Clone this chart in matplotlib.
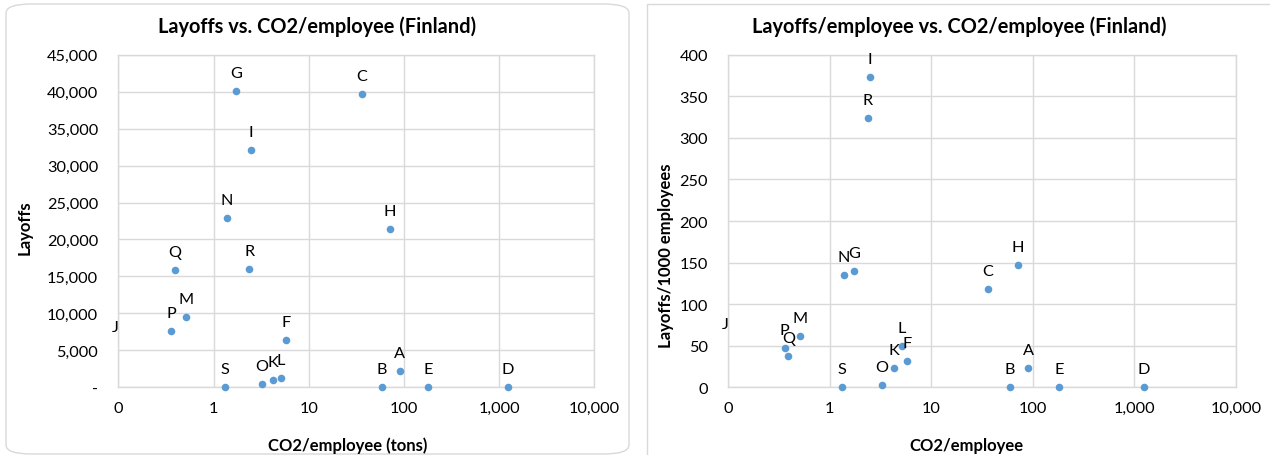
import matplotlib
matplotlib.use("Agg")
import matplotlib.pyplot as plt
from matplotlib.patches import FancyBboxPatch
import matplotlib.transforms as mtransforms
import numpy as np

# ---------------- data ----------------
sectors = ["A", "B", "C", "D", "E", "F", "G", "H", "I", "J",
           "K", "L", "M", "N", "O", "P", "Q", "R", "S"]
co2_per_employee = [90, 59, 36, 1240, 181, 5.8, 1.74, 71, 2.47, 0,
                    4.25, 5.14, 0.511, 1.38, 3.23, 0.36, 0.39, 2.37, 1.31]
layoffs = [2160, 0, 39700, 0, 0, 6440, 40100, 21380, 32150, 5700,
           1030, 1300, 9470, 22900, 450, 7620, 15830, 16050, 0]
layoffs_per_1000 = [23.2, 0, 117.8, 0, 0, 31.3, 139.5, 147.4, 373.5, 54.5,
                    22.8, 49.7, 61.3, 135, 2.8, 47.6, 38, 323.5, 0]

x_ticks = [0.1, 1, 10, 100, 1000, 10000]
x_tick_labels = ["0", "1", "10", "100", "1,000", "10,000"]
left_y_ticks = list(range(0, 45001, 5000))
left_y_tick_labels = ["-"] + [f"{v:,}" for v in left_y_ticks[1:]]
right_y_ticks = list(range(0, 401, 50))
right_y_tick_labels = [str(v) for v in right_y_ticks]

titles = ["Layoffs vs. CO2/employee (Finland)",
          "Layoffs/employee vs. CO2/employee (Finland)"]
x_titles = ["CO2/employee (tons)", "CO2/employee"]
y_titles = ["Layoffs", "Layoffs/1000 employees"]

# ---------------- style ----------------
FONT = ["Lato", "DejaVu Sans"]
plt.rcParams["font.family"] = FONT
W, H = 1270, 456
DPI = 100
GRID = "#d9d9d9"
BLUE = "#5b9bd5"
TICK_FS = 11.7
LBL_FS = 11.7
TITLE_FS = 14.4
AX_FS = 12

fig = plt.figure(figsize=(W / DPI, H / DPI), dpi=DPI)
fig.patch.set_facecolor("white")


def px(x0, y0, w, h):
    return [x0 / W, (H - y0 - h) / H, w / W, h / H]


# panel borders
fig.patches.append(FancyBboxPatch((6 / W, 1 - 455 / H), (629 - 6) / W, (455 - 5) / H,
                                  boxstyle="round,pad=0,rounding_size=0.02",
                                  transform=fig.transFigure, fill=False,
                                  edgecolor=GRID, linewidth=1.0))
fig.patches.append(FancyBboxPatch((647 / W, 1 - 470 / H), (1290 - 647) / W, (470 - 5) / H,
                                  boxstyle="square,pad=0",
                                  transform=fig.transFigure, fill=False,
                                  edgecolor=GRID, linewidth=1.0))

axes_specs = [
    dict(rect=px(118.3, 55.7, 476, 332.6), y=layoffs, yticks=left_y_ticks,
         yticklabels=left_y_tick_labels, ylim=(0, 45000),
         title_x=317.5, xlabel_x=348, ylabel_x=24.5, ylabel_y=228),
    dict(rect=px(728.3, 55.7, 507.7, 332.6), y=layoffs_per_1000, yticks=right_y_ticks,
         yticklabels=right_y_tick_labels, ylim=(0, 400),
         title_x=959, xlabel_x=966, ylabel_x=666, ylabel_y=256),
]

for i, spec in enumerate(axes_specs):
    ax = fig.add_axes(spec["rect"])
    ax.set_xscale("log")
    ax.set_xlim(0.1, 10000)
    ax.set_ylim(*spec["ylim"])
    ax.set_xticks(x_ticks)
    ax.set_xticklabels(x_tick_labels)
    ax.xaxis.set_minor_locator(matplotlib.ticker.NullLocator())
    ax.set_yticks(spec["yticks"])
    ax.set_yticklabels(spec["yticklabels"])
    ax.tick_params(axis="both", length=0, labelsize=TICK_FS, colors="#000000")
    ax.tick_params(axis="y", pad=14.5)
    ax.tick_params(axis="x", pad=10)
    ax.grid(True, color=GRID, linewidth=1.0)
    ax.set_axisbelow(True)
    for s in ax.spines.values():
        s.set_color(GRID)
        s.set_linewidth(1.0)

    xs = np.array(co2_per_employee, dtype=float)
    ys = np.array(spec["y"], dtype=float)
    ok = xs > 0
    ax.scatter(xs[ok], ys[ok], s=30, color=BLUE, linewidths=0, zorder=3, clip_on=False)

    for name, xv, yv in zip(sectors, xs, ys):
        if xv > 0:
            ax.annotate(name, (xv, yv), xytext=(0, 13), textcoords="offset points",
                        ha="center", va="center", fontsize=LBL_FS, annotation_clip=False)
        else:
            trans = mtransforms.blended_transform_factory(ax.transAxes, ax.transData)
            ax.annotate(name, (0, yv), xycoords=trans, xytext=(-2.5, 13),
                        textcoords="offset points", ha="center", va="center",
                        fontsize=LBL_FS, annotation_clip=False)

    fig.text(spec["title_x"] / W, 1 - 26.7 / H, titles[i], ha="center", va="center",
             fontsize=TITLE_FS, fontweight="bold")
    fig.text(spec["xlabel_x"] / W, 1 - 446 / H, x_titles[i], ha="center", va="center",
             fontsize=AX_FS, fontweight="bold")
    fig.text(spec["ylabel_x"] / W, 1 - spec["ylabel_y"] / H, y_titles[i], ha="center",
             va="center", rotation=90, fontsize=AX_FS, fontweight="bold")

fig.savefig("out.png", dpi=DPI, facecolor="white")
